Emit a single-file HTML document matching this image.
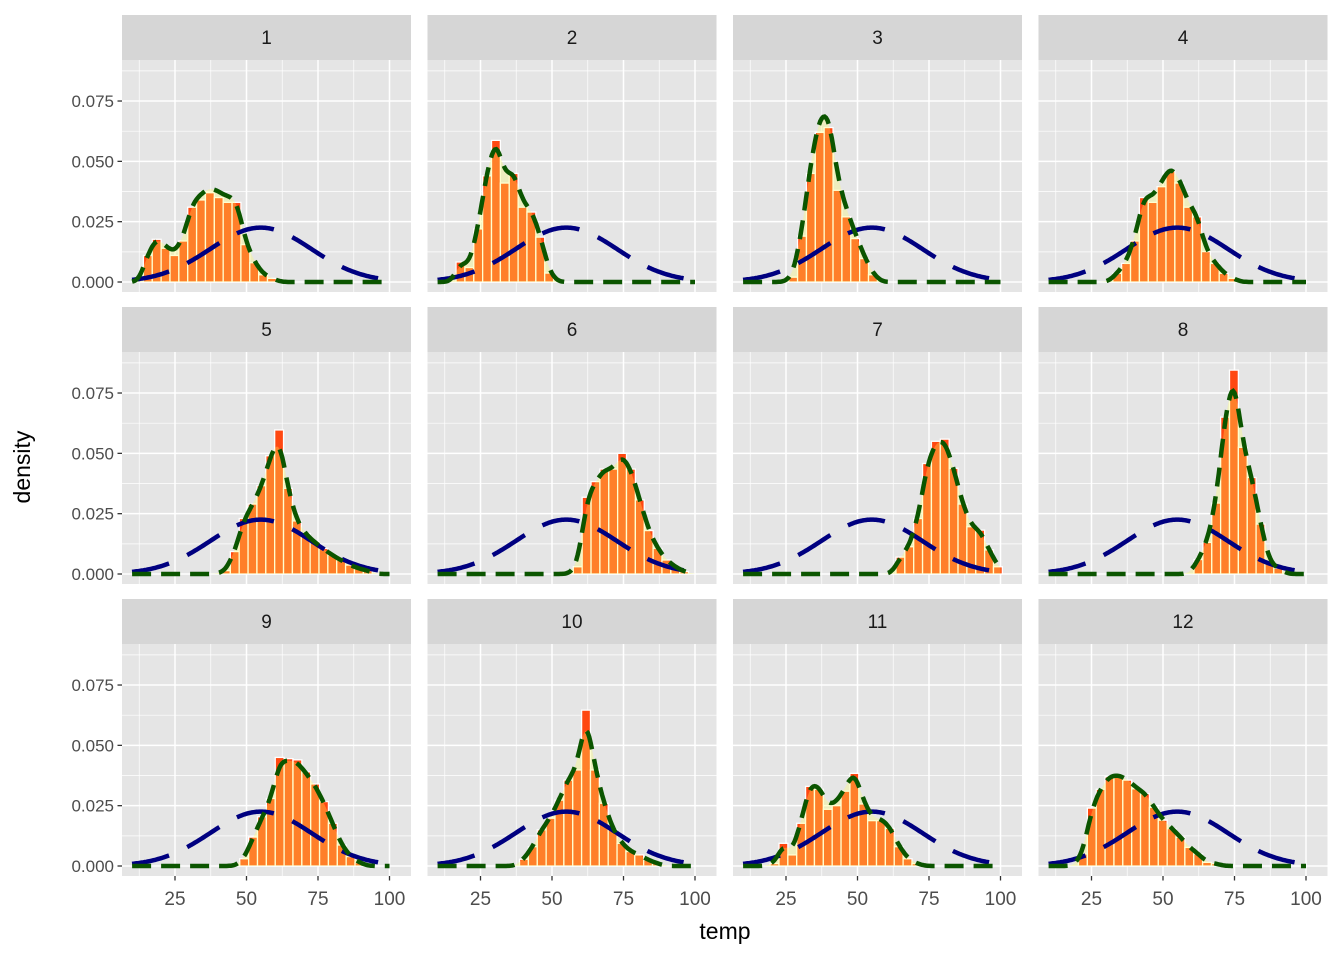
<!DOCTYPE html>
<html><head><meta charset="utf-8"><style>
body{margin:0;background:#fff;}
svg{display:block;font-family:"Liberation Sans",Arial,sans-serif;}
</style></head><body>
<svg id="chart" width="1344" height="960" viewBox="0 0 1344 960"></svg>
<script>
// ---- data ----
const panelLabels = ["1","2","3","4","5","6","7","8","9","10","11","12"];
const binWidth = 3.1;
const binStarts = [15.5, 18, 27.5, 34, 42.8, 59, 65, 62.4, 49.2, 40.2, 21, 22];
const bars1 = [0.011,0.0177,0.014,0.011,0.017,0.031,0.034,0.037,0.035,0.033,0.033,0.0155,0.008,0.003,0.0015];
const bars2 = [0.0083,0.006,0.022,0.044,0.0587,0.041,0.045,0.031,0.029,0.0186,0.0037];
const bars3 = [0.002,0.019,0.045,0.062,0.064,0.038,0.027,0.018,0.0097,0.003];
const bars4 = [0.0036,0.0077,0.017,0.035,0.033,0.0395,0.046,0.041,0.031,0.027,0.0126,0.0077,0.0036,0.0015];
const bars5 = [0.0014,0.0093,0.023,0.029,0.0366,0.049,0.0597,0.0355,0.022,0.0168,0.0134,0.0106,0.0079,0.0058,0.0037,0.0023,0.0014];
const bars6 = [0.003,0.0318,0.0383,0.0435,0.0435,0.05,0.0435,0.0307,0.018,0.0106,0.0058,0.003,0.001];
const bars7 = [0.007,0.0113,0.023,0.0458,0.055,0.0559,0.0438,0.029,0.0196,0.0182,0.01,0.003];
const bars8 = [0.006,0.0131,0.0294,0.065,0.0845,0.0525,0.040,0.0207,0.0044,0.0024];
const bars9 = [0.003,0.012,0.0204,0.028,0.045,0.0445,0.044,0.039,0.034,0.0267,0.0177,0.0087,0.0039,0.0014];
const bars10 = [0.0028,0.008,0.015,0.0198,0.0273,0.0356,0.0398,0.0646,0.0398,0.026,0.015,0.0094,0.006,0.0046,0.0025,0.0011];
const bars11 = [0.001,0.0094,0.0046,0.0177,0.033,0.0318,0.0235,0.025,0.031,0.0384,0.0257,0.0188,0.0188,0.0156,0.008,0.003,0.001];
const bars12 = [0.005,0.024,0.0318,0.037,0.0373,0.0356,0.032,0.030,0.0243,0.019,0.0155,0.0119,0.0077,0.005,0.0015,0.001];
const allBars = [bars1,bars2,bars3,bars4,bars5,bars6,bars7,bars8,bars9,bars10,bars11,bars12];
const normalMean = 55;
const normalSd = 17.7;
const xTicks = [25,50,75,100];
const yTicks = [0,0.025,0.05,0.075];
const yTickLabels = ["0.000","0.025","0.050","0.075"];

// ---- layout ----
const NS="http://www.w3.org/2000/svg";
const svg=document.getElementById('chart');
const colLeft=[122,427.5,733,1038.5], panelW=289;
const rowTop=[60,352,644], panelH=232, stripH=45;
function mk(tag,attrs,parent){const e=document.createElementNS(NS,tag);for(const k in attrs)e.setAttribute(k,attrs[k]);(parent||svg).appendChild(e);return e;}
function xs(col,t){return colLeft[col]+53+(t-25)*2.86;}
function ys(row,d){return rowTop[row]+222-d*2413;}
function dnorm(x,m,s){return Math.exp(-0.5*((x-m)/s)**2)/(s*Math.sqrt(2*Math.PI));}

panelLabels.forEach((lab,i)=>{
  const col=i%4,row=Math.floor(i/4);
  const g=mk('g',{});
  
  
  const L=colLeft[col],T=rowTop[row];
  const bg=mk('rect',{x:L,y:T,width:panelW,height:panelH,fill:'#e5e5e5'},g);
  
  
  const st=mk('rect',{x:L,y:T-stripH,width:panelW,height:stripH,fill:'#d6d6d6'},g);
  
  
  const stt=mk('text',{x:L+panelW/2,y:T-stripH/2+6.5,'text-anchor':'middle','font-size':19,fill:'#1a1a1a'},g);
  stt.textContent=lab;
  
  
  // grid
  [12.5,37.5,62.5,87.5].forEach(t=>mk('line',{x1:xs(col,t),x2:xs(col,t),y1:T,y2:T+panelH,stroke:'#fff','stroke-width':0.7},g));
  [0.0125,0.0375,0.0625,0.0875].forEach(d=>{if(ys(row,d)>T)mk('line',{x1:L,x2:L+panelW,y1:ys(row,d),y2:ys(row,d),stroke:'#fff','stroke-width':0.7},g);});
  xTicks.forEach(t=>mk('line',{x1:xs(col,t),x2:xs(col,t),y1:T,y2:T+panelH,stroke:'#fff','stroke-width':1.5},g));
  yTicks.forEach(d=>mk('line',{x1:L,x2:L+panelW,y1:ys(row,d),y2:ys(row,d),stroke:'#fff','stroke-width':1.5},g));
  const clip=mk('clipPath',{id:'c'+i},g);
  mk('rect',{x:L,y:T,width:panelW,height:panelH},clip);
  const pg=mk('g',{'clip-path':'url(#c'+i+')'},g);
  // bars
  const bars=allBars[i];
  bars.forEach((h,k)=>{
    const c=binStarts[i]+k*binWidth;
    const x0=xs(col,c-binWidth/2),x1=xs(col,c+binWidth/2);
    const r=mk('rect',{x:x0,y:ys(row,h),width:x1-x0,height:ys(row,0)-ys(row,h),fill:'#ff4811',stroke:'#fff','stroke-width':1.3},pg);
    
    
  });
  // kde from bars
  const tot=bars.reduce((a,b)=>a+b,0)*binWidth;
  const bw=2.0;
  let dpts=[],npts=[];
  for(let t=10;t<=100.001;t+=0.5){
    let s=0;bars.forEach((h,k)=>{s+=h*binWidth*dnorm(t,binStarts[i]+k*binWidth,bw);});
    s/=tot;
    dpts.push([xs(col,t),ys(row,s)]);
    npts.push([xs(col,t),ys(row,dnorm(t,normalMean,normalSd))]);
  }
  const dstr=dpts.map(p=>p[0].toFixed(1)+','+p[1].toFixed(1)).join(' ');
  const area=mk('polygon',{points:xs(col,10)+','+ys(row,0)+' '+dstr+' '+xs(col,100)+','+ys(row,0),fill:'#ffff64','fill-opacity':0.3},pg);
  
  
  const nl=mk('polyline',{points:npts.map(p=>p[0].toFixed(1)+','+p[1].toFixed(1)).join(' '),fill:'none',stroke:'#000080','stroke-width':4.5,'stroke-dasharray':'38,20'},pg);
  
  
  const dl=mk('polyline',{points:dstr,fill:'none',stroke:'#0b5500','stroke-width':4.5,'stroke-dasharray':'19,10'},pg);
  
  
  // axes
  if(col===0){
    yTicks.forEach((d,k)=>{
      mk('line',{x1:L-4.5,x2:L,y1:ys(row,d),y2:ys(row,d),stroke:'#333','stroke-width':1.3});
      const tl=mk('text',{x:L-8,y:ys(row,d)+6,'text-anchor':'end','font-size':17,fill:'#4d4d4d'});
      tl.textContent=yTickLabels[k];
      
      
    });
  }
  if(row===2){
    xTicks.forEach(t=>{
      mk('line',{x1:xs(col,t),x2:xs(col,t),y1:T+panelH,y2:T+panelH+4.5,stroke:'#333','stroke-width':1.3});
      const tl=mk('text',{x:xs(col,t),y:T+panelH+29,'text-anchor':'middle','font-size':19,fill:'#4d4d4d'});
      tl.textContent=t;
      
      
    });
  }
});
const xt=mk('text',{x:725,y:939,'text-anchor':'middle','font-size':23,fill:'#000'});
xt.textContent='temp';


const yt=mk('text',{x:0,y:0,transform:'translate(30,467) rotate(-90)','text-anchor':'middle','font-size':23,fill:'#000'});
yt.textContent='density';


</script>
</body></html>
